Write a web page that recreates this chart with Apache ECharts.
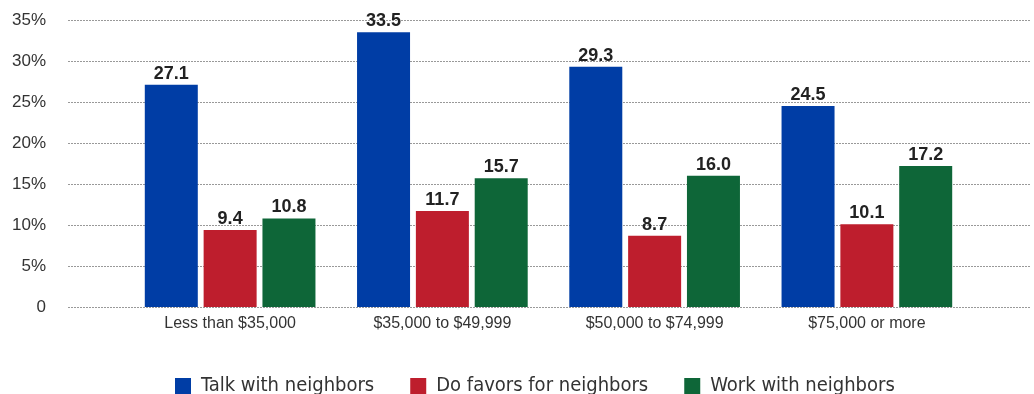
<!DOCTYPE html>
<html>
<head>
<meta charset="utf-8">
<script src="https://cdn.jsdelivr.net/npm/echarts@6/dist/echarts.min.js"></script>
<style>
  html, body { margin: 0; padding: 0; background: #fff; }
  #chart { width: 1034px; height: 394px; }
</style>
</head>
<body>
<div id="chart"></div>
<script>
  const categories = ['Less than $35,000', '$35,000 to $49,999', '$50,000 to $74,999', '$75,000 or more']
  const talkValues = [27.1, 33.5, 29.3, 24.5]
  const favorValues = [9.4, 11.7, 8.7, 10.1]
  const workValues = [10.8, 15.7, 16.0, 17.2]
  const seriesNames = ['Talk with neighbors', 'Do favors for neighbors', 'Work with neighbors']
  const colors = ['#003DA5', '#BE1E2D', '#0E6638']

  let chart = echarts.init(document.getElementById('chart'))

  function barSeries (name, data, color) {
    return {
      name: name,
      type: 'bar',
      xAxisIndex: 0,
      yAxisIndex: 0,
      data: data,
      barWidth: 53,
      barGap: '11%',
      itemStyle: { color: color },
      label: {
        show: true,
        position: 'top',
        distance: 2,
        formatter: p => p.value.toFixed(1),
        color: '#222',
        fontFamily: 'Liberation Sans, Arial, sans-serif',
        fontWeight: 'bold',
        fontSize: 18
      }
    }
  }

  let options = {
    animation: false,
    color: colors,
    grid: [
      { left: 124, right: 61, top: 20, bottom: 87 },
      { left: 68, right: 4, top: 20, bottom: 87 }
    ],
    legend: {
      top: 371,
      left: 170,
      itemWidth: 16,
      itemHeight: 16,
      itemGap: 36,
      icon: 'rect',
      textStyle: {
        fontFamily: "'DejaVu Sans Condensed', 'DejaVu Sans', sans-serif",
        fontSize: 20,
        color: '#333',
        padding: [0, 0, 0, 5]
      },
      data: seriesNames
    },
    xAxis: [{
      type: 'category',
      gridIndex: 0,
      data: categories,
      axisLine: { show: false },
      axisTick: { show: false },
      axisLabel: {
        color: '#333',
        fontFamily: 'Liberation Sans, Arial, sans-serif',
        fontSize: 16,
        margin: 9
      }
    }, {
      type: 'value',
      gridIndex: 1,
      show: false
    }],
    yAxis: [{
      type: 'value',
      gridIndex: 0,
      min: 0,
      max: 35,
      interval: 5,
      show: false,
      splitLine: { show: false }
    }, {
      type: 'value',
      gridIndex: 1,
      min: 0,
      max: 35,
      interval: 5,
      axisLine: { show: false },
      axisTick: { show: false },
      axisLabel: {
        margin: 22,
        color: '#333',
        fontFamily: 'Liberation Sans, Arial, sans-serif',
        fontSize: 17,
        formatter: v => v === 0 ? '0' : v + '%'
      },
      splitLine: {
        lineStyle: { color: '#999', type: [2, 1], width: 1 }
      }
    }],
    series: [
      barSeries(seriesNames[0], talkValues, colors[0]),
      barSeries(seriesNames[1], favorValues, colors[1]),
      barSeries(seriesNames[2], workValues, colors[2])
    ]
  }
  chart.setOption(options)
</script>
</body>
</html>
